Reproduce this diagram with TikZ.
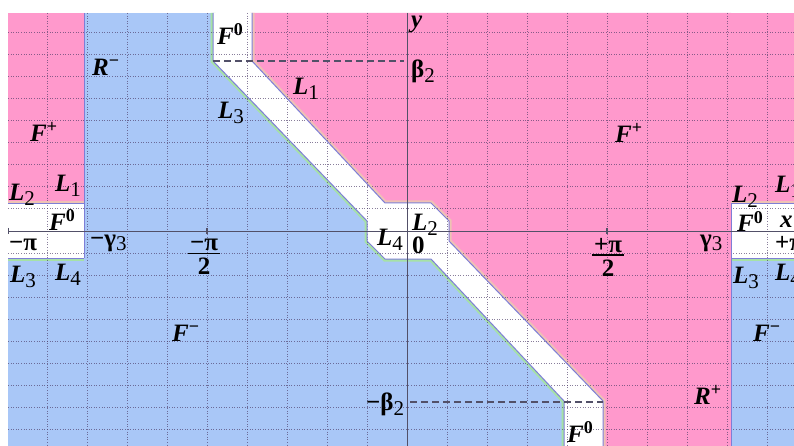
\documentclass[tikz,border=0pt]{standalone}
\usepackage{fontspec}
\setmainfont{Liberation Serif}
\definecolor{pinkF}{HTML}{FF99CC}
\definecolor{blueF}{HTML}{A9C7F7}
\definecolor{edgeP}{HTML}{7E7ED6}
\definecolor{edgeG}{HTML}{A6E2A6}
\definecolor{edgeT}{HTML}{EEC2B4}
\definecolor{gridC}{HTML}{4A3A66}
\definecolor{axisC}{HTML}{525068}
\newcommand\sps[1]{\raisebox{9pt}{\fontsize{18}{18}\selectfont\bfseries\upshape #1}}
\newcommand\sbs[1]{\raisebox{-5pt}{\fontsize{21}{21}\selectfont\mdseries\upshape #1}}
\newcommand\qfrac[2]{\vbox{\offinterlineskip\halign{\hfil\kern2pt##\kern2pt\hfil\cr #1\cr\noalign{\kern2pt\hrule height1.3pt\kern4pt}#2\cr}}}
\begin{document}
\begin{tikzpicture}[x=1pt,y=-1pt,
  lbl/.style={font=\fontsize{25}{28}\selectfont\bfseries\itshape, inner sep=0pt, anchor=base west},
  num/.style={font=\fontsize{25}{28}\selectfont\bfseries, inner sep=0pt, anchor=base west},
  gridline/.style={gridC, opacity=0.65, line width=1pt, dash pattern=on 1pt off 1.6pt},
  edgeline/.style={edgeP, line width=1pt},
  greenrim/.style={edgeG, line width=5pt},
  tanrim/.style={edgeT, line width=5pt},
  axisline/.style={axisC, line width=1pt},
  betaline/.style={axisC, line width=1.6pt, dash pattern=on 7pt off 4pt},
]
\useasboundingbox (0,0) rectangle (794,446);
\begin{scope}
\clip (8,13) rectangle (794,446);
% regions
\fill[blueF] (8,13) rectangle (794,446);
\fill[pinkF] (8,13) rectangle (84,204);
\fill[pinkF] (731,13) rectangle (794,204);
\fill[pinkF] (252,13) -- (252,61) -- (385,203) -- (431,203) -- (449,221) -- (449,241)
  -- (603,401) -- (603,446) -- (731,446) -- (731,13) -- cycle;
% rims
\draw[greenrim] (213,13) -- (213,61) -- (367,221) -- (367,241) -- (385,259) -- (431,259) -- (564,401) -- (564,446);
\draw[greenrim] (8,258) -- (84,258);
\draw[greenrim] (731,258) -- (794,258);
\draw[tanrim] (252,13) -- (252,61) -- (385,203) -- (431,203) -- (449,221) -- (449,241) -- (603,401) -- (603,446);
\draw[tanrim] (8,204) -- (84,204);
\draw[tanrim] (731,204) -- (794,204);
% F0 bands
\fill[white] (8,204) rectangle (84,258);
\fill[white] (731,204) rectangle (794,258);
\fill[white] (213,13) -- (252,13) -- (252,61) -- (385,203) -- (431,203) -- (449,221) -- (449,241)
  -- (603,401) -- (603,446) -- (564,446) -- (564,401) -- (431,259) -- (385,259) -- (367,241)
  -- (367,221) -- (213,61) -- cycle;
% grid
\foreach \gx in {47,87,...,767} \draw[gridline] (\gx,13) -- (\gx,446);
\foreach \gy in {33,55,...,429} \draw[gridline] (8,\gy) -- (794,\gy);
% boundaries
\draw[edgeline] (213,13) -- (213,61) -- (367,221) -- (367,241) -- (385,259) -- (431,259) -- (564,401) -- (564,446);
\draw[edgeline] (252,13) -- (252,61) -- (385,203) -- (431,203) -- (449,221) -- (449,241) -- (603,401) -- (603,446);
\draw[edgeline] (8,204) -- (84,204);
\draw[edgeline] (8,258) -- (84,258);
\draw[edgeline] (731,204) -- (794,204);
\draw[edgeline] (731,258) -- (794,258);
\draw[edgeline] (84,13) -- (84,258);
\draw[edgeline] (731,204) -- (731,446);
% axes
\draw[axisline] (8,231) -- (794,231);
\draw[axisline] (407,13) -- (407,446);
\foreach \tx in {8,207,607} \draw[axisC, line width=1.4pt] (\tx,228) -- (\tx,234);
% beta lines
\draw[betaline] (213,61) -- (404,61);
\draw[betaline] (410,402) -- (603,402);
\end{scope}
\begin{scope}
\clip (0,0) rectangle (794,446);
\node[lbl] (F0t) at (217,45) {F\sps{0}};
\node[lbl] (Rm) at (92,76) {R\sps{−}};
\node[num] (b2) at (411,78) {β\sbs{2}};
\node[lbl] (ylab) at (411,28) {y};
\node[lbl] (L1a) at (293,95) {L\sbs{1}};
\node[lbl] (L3a) at (218,119) {L\sbs{3}};
\node[lbl] (Fp1) at (30,142) {F\sps{+}};
\node[lbl] (Fp2) at (615,143) {F\sps{+}};
\node[lbl] (L2l) at (9,201) {L\sbs{2}};
\node[lbl] (L1l) at (55,192) {L\sbs{1}};
\node[lbl] (F0l) at (49,230) {F\sps{0}};
\node[num] (mpi) at (9,250) {−π};
\node[lbl] (L3l) at (10,282) {L\sbs{3}};
\node[lbl] (L4l) at (55,280) {L\sbs{4}};
\node[num] (mg3) at (90,246) {−γ\sbs{3}};
\node[num, anchor=center] (mpih) at (204,257) {\qfrac{−π}{2}};
\node[lbl] (L4c) at (377,245) {L\sbs{4}};
\node[lbl] (L2c) at (412,230) {L\sbs{2}};
\node[num] (zero) at (412,253) {0};
\node[num, anchor=center] (ppih) at (608,257) {\qfrac{+π}{2}};
\node[lbl] (L2r) at (732,203) {L\sbs{2}};
\node[lbl] (L1r) at (775,193) {L\sbs{1}};
\node[lbl] (F0r) at (737,232) {F\sps{0}};
\node[lbl] (xlab) at (780,228) {x};
\node[num] (ppi) at (775,251) {+π};
\node[lbl] (L3r) at (733,283) {L\sbs{3}};
\node[lbl] (L4r) at (775,280) {L\sbs{4}};
\node[num] (g3) at (700,246) {γ\sbs{3}};
\node[lbl] (Fm1) at (172,341) {F\sps{−}};
\node[lbl] (Fm2) at (753,341) {F\sps{−}};
\node[lbl] (Rp) at (694,404) {R\sps{+}};
\node[num] (mb2) at (366,410) {−β\sbs{2}};
\node[lbl] (F0b) at (567,442) {F\sps{0}};
\end{scope}
\end{tikzpicture}
\end{document}
